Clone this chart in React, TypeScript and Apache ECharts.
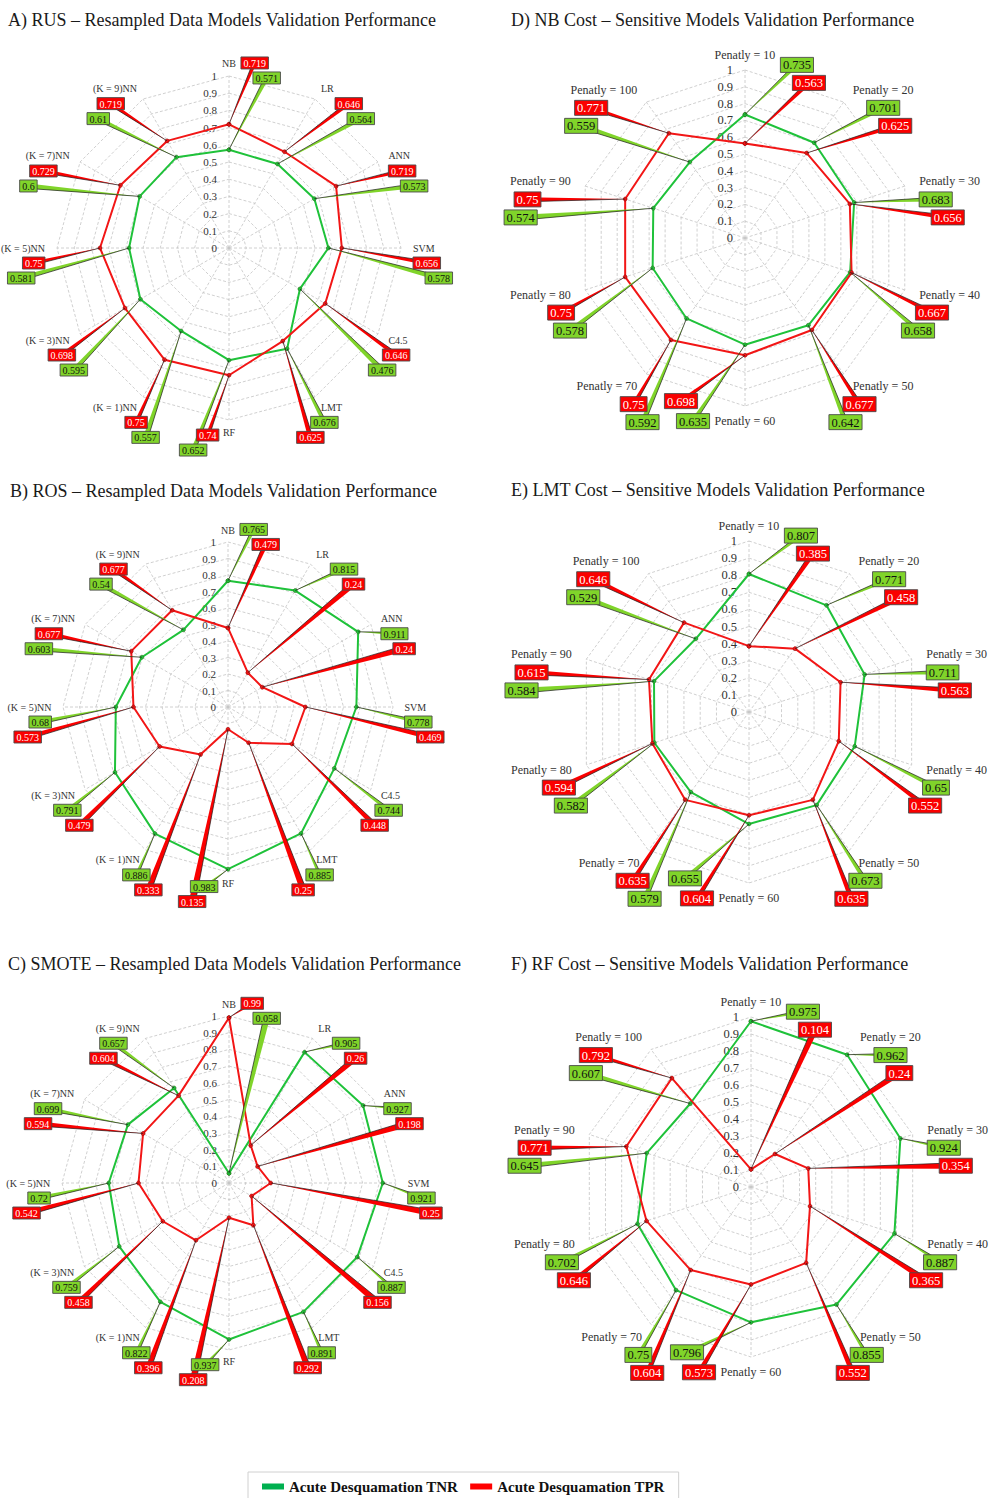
import React, { useEffect, useRef } from "react";
import * as echarts from "echarts";

// ---------- categories & tick labels ----------
const MODELS = ["NB", "LR", "ANN", "SVM", "C4.5", "LMT", "RF", "(K = 1)NN", "(K = 3)NN", "(K = 5)NN", "(K = 7)NN", "(K = 9)NN"];
const PENALTIES = ["Penatly = 10", "Penatly = 20", "Penatly = 30", "Penatly = 40", "Penatly = 50", "Penatly = 60", "Penatly = 70", "Penatly = 80", "Penatly = 90", "Penatly = 100"];
const TICKS = [0, 0.1, 0.2, 0.3, 0.4, 0.5, 0.6, 0.7, 0.8, 0.9, 1];
const TICK_LABELS = ["0", "0.1", "0.2", "0.3", "0.4", "0.5", "0.6", "0.7", "0.8", "0.9", "1"];

// ---------- series values ----------
const RUS_TNR = [0.571, 0.564, 0.573, 0.578, 0.476, 0.676, 0.652, 0.557, 0.595, 0.581, 0.6, 0.61];
const RUS_TPR = [0.719, 0.646, 0.719, 0.656, 0.646, 0.625, 0.74, 0.75, 0.698, 0.75, 0.729, 0.719];
const ROS_TNR = [0.765, 0.815, 0.911, 0.778, 0.744, 0.885, 0.983, 0.886, 0.791, 0.68, 0.603, 0.54];
const ROS_TPR = [0.479, 0.24, 0.24, 0.469, 0.448, 0.25, 0.135, 0.333, 0.479, 0.573, 0.677, 0.677];
const SMOTE_TNR = [0.058, 0.905, 0.927, 0.921, 0.887, 0.891, 0.937, 0.822, 0.759, 0.72, 0.699, 0.657];
const SMOTE_TPR = [0.99, 0.26, 0.198, 0.25, 0.156, 0.292, 0.208, 0.396, 0.458, 0.542, 0.594, 0.604];
const NB_TNR = [0.735, 0.701, 0.683, 0.658, 0.642, 0.635, 0.592, 0.578, 0.574, 0.559];
const NB_TPR = [0.563, 0.625, 0.656, 0.667, 0.677, 0.698, 0.75, 0.75, 0.75, 0.771];
const LMT_TNR = [0.807, 0.771, 0.711, 0.65, 0.673, 0.655, 0.579, 0.582, 0.584, 0.529];
const LMT_TPR = [0.385, 0.458, 0.563, 0.552, 0.635, 0.604, 0.635, 0.594, 0.615, 0.646];
const RF_TNR = [0.975, 0.962, 0.924, 0.887, 0.855, 0.796, 0.75, 0.702, 0.645, 0.607];
const RF_TPR = [0.104, 0.24, 0.354, 0.365, 0.552, 0.573, 0.604, 0.646, 0.771, 0.792];

const TNR_NAME = "Acute Desquamation TNR";
const TPR_NAME = "Acute Desquamation TPR";

// ---------- layout / style ----------
const PANELS = [
  { title: "A) RUS \u2013 Resampled Data Models Validation Performance", axes: MODELS, tnr: RUS_TNR, tpr: RUS_TPR, cx: 229, cy: 248, R: 172, tx: 8, ty: 11, big: false },
  { title: "B) ROS \u2013 Resampled Data Models Validation Performance", axes: MODELS, tnr: ROS_TNR, tpr: ROS_TPR, cx: 228, cy: 707, R: 165, tx: 10, ty: 482, big: false },
  { title: "C) SMOTE \u2013 Resampled Data Models Validation Performance", axes: MODELS, tnr: SMOTE_TNR, tpr: SMOTE_TPR, cx: 229, cy: 1183, R: 167, tx: 8, ty: 955, big: false },
  { title: "D) NB Cost \u2013 Sensitive Models Validation Performance", axes: PENALTIES, tnr: NB_TNR, tpr: NB_TPR, cx: 745, cy: 238, R: 168, tx: 511, ty: 11, big: true },
  { title: "E) LMT Cost \u2013 Sensitive Models Validation Performance", axes: PENALTIES, tnr: LMT_TNR, tpr: LMT_TPR, cx: 749, cy: 712, R: 171, tx: 511, ty: 481, big: true },
  { title: "F) RF Cost \u2013 Sensitive Models Validation Performance", axes: PENALTIES, tnr: RF_TNR, tpr: RF_TPR, cx: 751, cy: 1187, R: 170, tx: 511, ty: 955, big: true },
];

const FONT = "Liberation Serif";
const GREEN_LINE = "#1FC23A";
const RED_LINE = "#F21616";
const GREEN_BOX = "#80D42A";
const RED_BOX = "#FA0000";
const GRID = "#C4C4C4";

let measureCtx: CanvasRenderingContext2D | null = null;
function textW(t: string, size: number, bold = false) {
  if (!measureCtx) measureCtx = document.createElement("canvas").getContext("2d");
  if (!measureCtx) return t.length * size * 0.5;
  measureCtx.font = `${bold ? "bold " : ""}${size}px "${FONT}"`;
  return measureCtx.measureText(t).width;
}

function boxCenter(th: number, N: number[], nameW: number, bw: number, bh: number, rank: number, big: boolean) {
  const s = Math.sin(th), c = Math.cos(th);
  const gapY = bh + 3;
  let left: number, cy: number;
  if (Math.abs(s) < 0.1) {
    if (c > 0) {
      left = N[0] + nameW / 2 + 5 + rank * 12;
      cy = N[1] + (big ? 10 : -1) + rank * gapY;
    } else if (big) {
      left = N[0] - 64 - bw / 2 + rank * 12;
      cy = N[1] - 20 + rank * (gapY + 2);
    } else {
      const right = N[0] - nameW / 2 - 4 - rank * 12;
      left = right - bw;
      cy = N[1] + 3 + rank * gapY;
    }
  } else if (s > 0) {
    const left1 = N[0] - 12 * Math.max(0, -c) + (c > 0.75 ? 14 : 0);
    left = left1 + rank * (c > -0.05 ? 12 : -14);
    cy = N[1] + bh + 3 + rank * gapY;
  } else {
    const left1 = c > 0.2 ? N[0] - nameW + 4 : N[0] + 12 * Math.max(0, -c) - bw;
    left = left1 + rank * (c > -0.05 ? -10 : 12);
    cy = N[1] + bh + 3 + rank * gapY;
  }
  return [left + bw / 2, cy];
}

function buildSeries(p: any, k: number) {
  const n = p.axes.length;
  const base = { coordinateSystem: "polar", polarIndex: k, silent: true, encode: { radius: 0, angle: 1 } };
  const nameR = p.big ? 1.09 : 1.07;
  const nameFs = p.big ? 12 : 10;
  const valFs = p.big ? 12.5 : 10;
  const tickFs = p.big ? 12.5 : 11;
  const bh = p.big ? 15 : 12;

  const calloutData = p.axes.flatMap((_: string, i: number) => [[p.tnr[i], i, 0], [p.tpr[i], i, 1]]);

  const geom = (api: any) => {
    const v = api.value(0), i = api.value(1), s = api.value(2);
    const greenFirst = p.tnr[i] >= p.tpr[i];
    const rank = s === 0 ? (greenFirst ? 0 : 1) : (greenFirst ? 1 : 0);
    const P = api.coord([v, i]);
    const N = api.coord([nameR, i]);
    const th = (i / n) * Math.PI * 2;
    const label = String(v);
    const bw = textW(label, valFs) + 5;
    const nameW = textW(p.axes[i], nameFs);
    const B = boxCenter(th, N, nameW, bw, bh, rank, p.big);
    return { v, s, P, B, bw, label };
  };

  return [
    {
      ...base, type: "custom", z: 1,
      data: TICKS.slice(1).map((t) => [t, 0]),
      renderItem: (params: any, api: any) => {
        const r = api.value(0);
        const pts = [];
        for (let i = 0; i <= n; i++) pts.push(api.coord([r, i % n]));
        return { type: "polyline", shape: { points: pts }, style: { stroke: GRID, lineWidth: 0.8, lineDash: [3, 2], fill: null } };
      },
    },
    {
      ...base, type: "custom", z: 1,
      data: p.axes.map((_: string, i: number) => [1, i]),
      renderItem: (params: any, api: any) => {
        const i = api.value(1);
        const a = api.coord([0, i]);
        const b = api.coord([api.value(0), i]);
        return { type: "line", shape: { x1: a[0], y1: a[1], x2: b[0], y2: b[1] }, style: { stroke: GRID, lineWidth: 0.8, lineDash: [3, 2] } };
      },
    },
    {
      ...base, type: "custom", z: 2,
      data: TICKS.map((t) => [t, 0]),
      renderItem: (params: any, api: any) => {
        const pt = api.coord([api.value(0), 0]);
        return {
          type: "text",
          style: { text: TICK_LABELS[params.dataIndex], x: pt[0] - 12, y: pt[1], align: "right", verticalAlign: "middle", fontFamily: FONT, fontSize: tickFs, fill: "#333" },
        };
      },
    },
    {
      ...base, type: "custom", z: 5,
      data: p.axes.map((_: string, i: number) => [nameR, i]),
      renderItem: (params: any, api: any) => {
        const i = api.value(1);
        const pt = api.coord([api.value(0), i]);
        const s = Math.sin((i / n) * Math.PI * 2);
        const align = Math.abs(s) < 0.1 ? "center" : s > 0 ? "left" : "right";
        return {
          type: "text",
          style: { text: p.axes[i], x: pt[0], y: pt[1], align, verticalAlign: "middle", fontFamily: FONT, fontSize: nameFs, fill: "#333" },
        };
      },
    },
    {
      ...base, type: "line", name: TNR_NAME, z: 3,
      data: [...p.tnr.map((v: number, i: number) => [v, i]), [p.tnr[0], n]],
      symbol: "circle", symbolSize: 4,
      lineStyle: { color: GREEN_LINE, width: 2 },
      itemStyle: { color: GREEN_LINE, borderColor: "#2a5a10", borderWidth: 0.5 },
    },
    {
      ...base, type: "line", name: TPR_NAME, z: 3,
      data: [...p.tpr.map((v: number, i: number) => [v, i]), [p.tpr[0], n]],
      symbol: "circle", symbolSize: 4,
      lineStyle: { color: RED_LINE, width: 2 },
      itemStyle: { color: RED_LINE, borderColor: "#7a0000", borderWidth: 0.5 },
    },
    {
      ...base, type: "custom", z: 4,
      data: calloutData,
      renderItem: (params: any, api: any) => {
        const g = geom(api);
        const dx = g.B[0] - g.P[0], dy = g.B[1] - g.P[1];
        const len = Math.max(1, Math.hypot(dx, dy));
        const px = -dy / len, py = dx / len;
        const hw = 1 + 0.013 * len;
        const b1 = [g.B[0] + px * hw, g.B[1] + py * hw];
        const b2 = [g.B[0] - px * hw, g.B[1] - py * hw];
        const fill = g.s === 0 ? GREEN_BOX : RED_BOX;
        return {
          type: "group",
          children: [
            { type: "polygon", shape: { points: [g.P, b1, b2] }, style: { fill } },
            { type: "line", shape: { x1: g.P[0], y1: g.P[1], x2: b2[0], y2: b2[1] }, style: { stroke: "#1a1a1a", lineWidth: 0.7 } },
          ],
        };
      },
    },
    {
      ...base, type: "custom", z: 6,
      data: calloutData,
      renderItem: (params: any, api: any) => {
        const g = geom(api);
        const green = g.s === 0;
        return {
          type: "group",
          children: [
            { type: "rect", shape: { x: g.B[0] - g.bw / 2, y: g.B[1] - bh / 2, width: g.bw, height: bh }, style: { fill: green ? GREEN_BOX : RED_BOX, stroke: "#4a4a4a", lineWidth: 0.9 } },
            { type: "text", style: { text: g.label, x: g.B[0], y: g.B[1] + 0.5, align: "center", verticalAlign: "middle", fontFamily: FONT, fontSize: valFs, fill: green ? "#111" : "#fff" } },
          ],
        };
      },
    },
  ];
}

function buildOption() {
  return {
    animation: false,
    backgroundColor: "#ffffff",
    title: PANELS.map((p) => ({
      text: p.title, left: p.tx, top: p.ty, padding: 0,
      textStyle: { fontFamily: FONT, fontSize: 18, fontWeight: "normal", color: "#1a1a1a" },
    })),
    polar: PANELS.map((p) => ({ center: [p.cx, p.cy], radius: p.R })),
    angleAxis: PANELS.map((p, k) => ({
      polarIndex: k, type: "value", min: 0, max: p.axes.length, startAngle: 90, clockwise: true,
      axisLine: { show: false }, axisTick: { show: false }, axisLabel: { show: false }, splitLine: { show: false },
    })),
    radiusAxis: PANELS.map((p, k) => ({
      polarIndex: k, type: "value", min: 0, max: 1,
      axisLine: { show: false }, axisTick: { show: false }, axisLabel: { show: false }, splitLine: { show: false },
    })),
    legend: {
      data: [
        { name: TNR_NAME, itemStyle: { color: "#00B050", borderWidth: 0 } },
        { name: TPR_NAME, itemStyle: { color: "#FF0000", borderWidth: 0 } },
      ],
      left: 248, top: 1472,
      padding: [7, 14, 22, 14],
      itemGap: 12, itemWidth: 22, itemHeight: 6, icon: "rect",
      borderColor: "#d0d0d0", borderWidth: 1,
      textStyle: { fontFamily: FONT, fontWeight: "bold", fontSize: 15, color: "#111" },
    },
    series: PANELS.flatMap((p, k) => buildSeries(p, k)),
  };
}

export default function App() {
  const ref = useRef<HTMLDivElement>(null);
  useEffect(() => {
    if (!ref.current) return;
    const chart = echarts.init(ref.current, null, { renderer: "svg" });
    chart.setOption(buildOption() as any);
    return () => chart.dispose();
  }, []);
  return <div ref={ref} style={{ position: "fixed", left: 0, top: 0, width: 991, height: 1498, background: "#fff" }} />;
}
